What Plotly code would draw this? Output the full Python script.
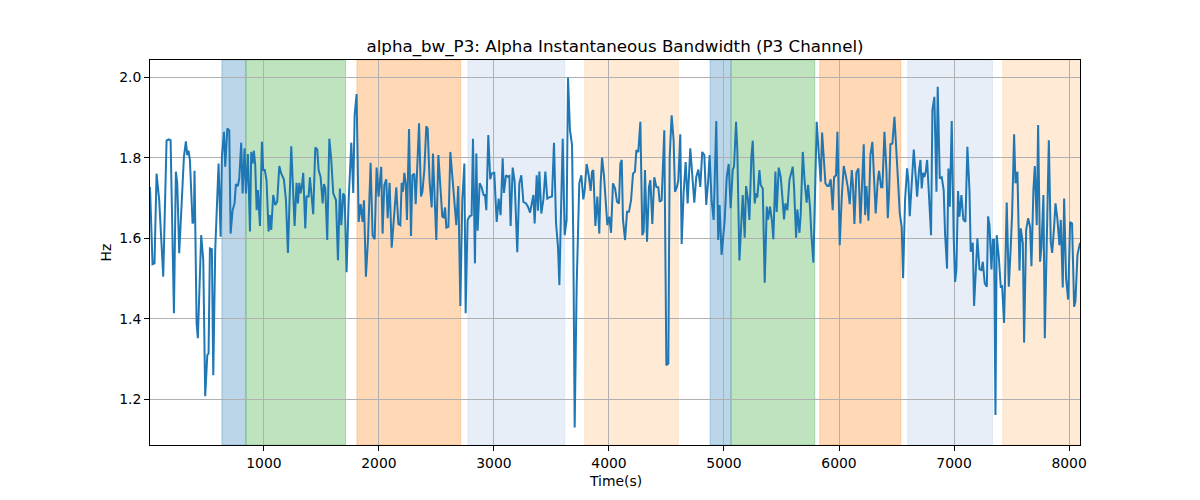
import plotly.graph_objects as go

time_s = [
    10, 32, 49, 67, 90, 108, 125, 154, 171, 189, 218, 235, 247, 264, 282, 305, 322, 334, 345, 357,
    380, 392, 397, 415, 426, 455, 473, 490, 508, 519, 531, 548, 560, 577, 606, 624, 635, 653, 664, 682,
    699, 711, 728, 745, 757, 774, 786, 803, 815, 832, 844, 861, 879, 890, 902, 913, 925, 937, 948, 966,
    983, 994, 1008, 1023, 1041, 1052, 1064, 1081, 1099, 1116, 1134, 1151, 1174, 1192, 1209, 1238, 1267, 1284, 1296, 1308,
    1319, 1331, 1342, 1360, 1371, 1389, 1400, 1412, 1429, 1447, 1464, 1476, 1493, 1511, 1522, 1534, 1551, 1569, 1586, 1603,
    1627, 1644, 1661, 1673, 1690, 1702, 1719, 1737, 1760, 1777, 1789, 1806, 1824, 1841, 1858, 1870, 1887, 1905, 1928, 1945,
    1963, 1980, 1997, 2020, 2032, 2047, 2064, 2076, 2093, 2111, 2134, 2151, 2169, 2186, 2198, 2209, 2221, 2233, 2244, 2262,
    2279, 2291, 2308, 2320, 2331, 2349, 2366, 2378, 2395, 2412, 2424, 2441, 2459, 2470, 2488, 2499, 2517, 2534, 2551, 2563,
    2575, 2586, 2604, 2621, 2638, 2656, 2673, 2690, 2708, 2725, 2743, 2754, 2771, 2789, 2806, 2818, 2835, 2847, 2858, 2876,
    2893, 2910, 2922, 2934, 2951, 2968, 2980, 3003, 3024, 3041, 3058, 3076, 3087, 3105, 3122, 3134, 3145, 3163, 3180, 3203,
    3221, 3238, 3256, 3279, 3296, 3314, 3331, 3343, 3354, 3372, 3383, 3395, 3412, 3430, 3447, 3464, 3482, 3505, 3522, 3540,
    3557, 3569, 3580, 3598, 3615, 3632, 3644, 3661, 3679, 3690, 3702, 3719, 3742, 3760, 3777, 3789, 3806, 3824, 3841, 3853,
    3864, 3882, 3899, 3916, 3928, 3940, 3957, 3974, 3986, 4003, 4018, 4035, 4053, 4070, 4087, 4099, 4111, 4122, 4140, 4157,
    4174, 4192, 4209, 4226, 4238, 4255, 4273, 4290, 4302, 4313, 4331, 4348, 4360, 4377, 4394, 4412, 4429, 4441, 4458, 4481,
    4499, 4516, 4528, 4545, 4562, 4574, 4591, 4603, 4620, 4632, 4649, 4667, 4684, 4707, 4724, 4742, 4759, 4777, 4794, 4811,
    4829, 4846, 4863, 4875, 4892, 4910, 4933, 4950, 4962, 4979, 5006, 5024, 5041, 5058, 5076, 5087, 5105, 5116, 5134, 5151,
    5163, 5180, 5192, 5209, 5221, 5238, 5250, 5267, 5279, 5290, 5308, 5319, 5337, 5354, 5372, 5383, 5400, 5418, 5429, 5447,
    5458, 5476, 5493, 5505, 5522, 5534, 5551, 5569, 5586, 5598, 5609, 5627, 5638, 5656, 5667, 5685, 5702, 5719, 5731, 5748,
    5760, 5777, 5789, 5806, 5824, 5841, 5853, 5870, 5882, 5899, 5911, 5928, 5945, 5957, 5974, 5986, 6006, 6024, 6041, 6058,
    6076, 6093, 6111, 6122, 6134, 6151, 6169, 6186, 6198, 6215, 6227, 6238, 6256, 6273, 6290, 6302, 6319, 6337, 6348, 6366,
    6377, 6395, 6412, 6424, 6435, 6447, 6464, 6482, 6499, 6516, 6528, 6545, 6557, 6574, 6592, 6603, 6615, 6632, 6650, 6667,
    6679, 6696, 6708, 6719, 6731, 6742, 6754, 6766, 6783, 6800, 6812, 6829, 6847, 6858, 6876, 6893, 6910, 6922, 6939, 6951,
    6963, 6980, 6997, 7009, 7020, 7035, 7047, 7064, 7081, 7099, 7116, 7134, 7145, 7163, 7174, 7192, 7203, 7221, 7238, 7250,
    7267, 7285, 7296, 7308, 7325, 7337, 7348, 7360, 7371, 7389, 7406, 7418, 7435, 7458, 7476, 7493, 7505, 7522, 7534, 7551,
    7569, 7580, 7598, 7609, 7627, 7644, 7661, 7673, 7690, 7702, 7719, 7731, 7748, 7760, 7777, 7789, 7806, 7824, 7841, 7853,
    7870, 7882, 7899, 7916, 7928, 7945, 7957, 7974, 7992, 8009, 8026, 8044, 8055, 8073, 8095,
]

alpha_bw = [
    1.728, 1.536, 1.538, 1.761, 1.695, 1.596, 1.505, 1.843, 1.846, 1.844, 1.414, 1.766, 1.737, 1.563, 1.670, 1.803, 1.841, 1.807, 1.818, 1.795,
    1.637, 1.646, 1.768, 1.389, 1.352, 1.608, 1.546, 1.208, 1.310, 1.314, 1.575, 1.573, 1.260, 1.571, 1.786, 1.604, 1.803, 1.865, 1.778, 1.873,
    1.869, 1.612, 1.670, 1.687, 1.735, 1.730, 1.749, 1.838, 1.712, 1.824, 1.712, 1.810, 1.617, 1.815, 1.786, 1.818, 1.782, 1.670, 1.720, 1.631,
    1.840, 1.770, 1.770, 1.745, 1.617, 1.658, 1.621, 1.708, 1.683, 1.691, 1.780, 1.761, 1.747, 1.695, 1.564, 1.829, 1.631, 1.738, 1.687, 1.738,
    1.712, 1.730, 1.763, 1.625, 1.704, 1.704, 1.752, 1.716, 1.660, 1.826, 1.821, 1.770, 1.753, 1.687, 1.735, 1.724, 1.596, 1.848, 1.795, 1.712,
    1.695, 1.546, 1.724, 1.633, 1.712, 1.704, 1.516, 1.695, 1.838, 1.713, 1.906, 1.959, 1.641, 1.685, 1.641, 1.695, 1.505, 1.596, 1.788, 1.608,
    1.598, 1.776, 1.704, 1.778, 1.612, 1.733, 1.747, 1.650, 1.738, 1.577, 1.654, 1.727, 1.636, 1.633, 1.738, 1.716, 1.763, 1.737, 1.646, 1.872,
    1.606, 1.757, 1.761, 1.685, 1.761, 1.886, 1.704, 1.716, 1.770, 1.879, 1.873, 1.741, 1.677, 1.811, 1.675, 1.596, 1.807, 1.720, 1.654, 1.652,
    1.677, 1.627, 1.629, 1.815, 1.749, 1.679, 1.633, 1.730, 1.432, 1.695, 1.786, 1.414, 1.646, 1.655, 1.658, 1.848, 1.538, 1.811, 1.619, 1.737,
    1.727, 1.708, 1.708, 1.670, 1.857, 1.747, 1.761, 1.763, 1.641, 1.699, 1.658, 1.799, 1.713, 1.757, 1.753, 1.755, 1.631, 1.776, 1.741, 1.566,
    1.737, 1.757, 1.691, 1.687, 1.679, 1.664, 1.687, 1.708, 1.637, 1.757, 1.669, 1.766, 1.662, 1.697, 1.766, 1.699, 1.702, 1.704, 1.838, 1.637,
    1.579, 1.484, 1.629, 1.848, 1.608, 1.646, 2.000, 1.869, 1.832, 1.596, 1.130, 1.480, 1.737, 1.757, 1.697, 1.720, 1.785, 1.757, 1.718, 1.766,
    1.770, 1.631, 1.704, 1.612, 1.737, 1.801, 1.755, 1.687, 1.633, 1.654, 1.614, 1.737, 1.724, 1.691, 1.687, 1.786, 1.795, 1.646, 1.596, 1.666,
    1.666, 1.695, 1.761, 1.766, 1.819, 1.815, 1.890, 1.608, 1.617, 1.770, 1.592, 1.728, 1.745, 1.636, 1.752, 1.728, 1.727, 1.691, 1.695, 1.869,
    1.285, 1.289, 1.803, 1.906, 1.844, 1.716, 1.728, 1.745, 1.859, 1.586, 1.712, 1.790, 1.687, 1.824, 1.761, 1.689, 1.753, 1.771, 1.728, 1.815,
    1.807, 1.683, 1.745, 1.807, 1.695, 1.646, 1.892, 1.596, 1.683, 1.559, 1.645, 1.753, 1.785, 1.675, 1.770, 1.778, 1.890, 1.819, 1.545, 1.666,
    1.708, 1.602, 1.730, 1.695, 1.646, 1.803, 1.843, 1.687, 1.712, 1.702, 1.770, 1.733, 1.724, 1.490, 1.679, 1.647, 1.679, 1.641, 1.598, 1.766,
    1.666, 1.776, 1.753, 1.712, 1.647, 1.687, 1.670, 1.745, 1.770, 1.778, 1.728, 1.602, 1.672, 1.614, 1.660, 1.815, 1.738, 1.689, 1.733, 1.677,
    1.608, 1.540, 1.679, 1.890, 1.811, 1.741, 1.863, 1.780, 1.737, 1.730, 1.730, 1.747, 1.670, 1.752, 1.757, 1.865, 1.583, 1.704, 1.780, 1.757,
    1.728, 1.685, 1.770, 1.728, 1.636, 1.763, 1.774, 1.637, 1.720, 1.834, 1.658, 1.730, 1.644, 1.807, 1.840, 1.745, 1.662, 1.745, 1.768, 1.727,
    1.727, 1.865, 1.770, 1.650, 1.712, 1.834, 1.836, 1.902, 1.795, 1.728, 1.662, 1.629, 1.501, 1.695, 1.774, 1.743, 1.655, 1.753, 1.821, 1.753,
    1.704, 1.770, 1.795, 1.724, 1.763, 1.753, 1.766, 1.795, 1.704, 1.608, 1.919, 1.952, 1.716, 1.977, 1.749, 1.752, 1.720, 1.612, 1.525, 1.774,
    1.679, 1.892, 1.604, 1.492, 1.521, 1.718, 1.654, 1.708, 1.647, 1.641, 1.828, 1.720, 1.567, 1.589, 1.432, 1.530, 1.600, 1.523, 1.521, 1.542,
    1.488, 1.480, 1.655, 1.633, 1.523, 1.596, 1.596, 1.161, 1.608, 1.554, 1.480, 1.481, 1.390, 1.689, 1.480, 1.579, 1.662, 1.859, 1.737, 1.766,
    1.520, 1.625, 1.588, 1.341, 1.621, 1.650, 1.629, 1.531, 1.720, 1.780, 1.633, 1.882, 1.542, 1.579, 1.708, 1.352, 1.629, 1.844, 1.592, 1.564,
    1.629, 1.687, 1.647, 1.583, 1.646, 1.478, 1.699, 1.501, 1.448, 1.641, 1.637, 1.430, 1.443, 1.559, 1.589,
]

# Shaded segments (start, end, colour)
seg_start = [635, 844, 1809, 2774, 3789, 4879, 5061, 5832, 6598, 7424]
seg_end = [844, 1710, 2711, 3615, 4603, 5061, 5789, 6537, 7334, 8200]
seg_color = [
    "rgba(31,119,180,0.3)", "rgba(44,160,44,0.3)", "rgba(255,127,14,0.3)",
    "rgba(174,199,232,0.3)", "rgba(255,187,120,0.3)",
    "rgba(31,119,180,0.3)", "rgba(44,160,44,0.3)", "rgba(255,127,14,0.3)",
    "rgba(174,199,232,0.3)", "rgba(255,187,120,0.3)",
]

x_ticks = [1000, 2000, 3000, 4000, 5000, 6000, 7000, 8000]
y_ticks = [1.2, 1.4, 1.6, 1.8, 2.0]

fig = go.Figure()
fig.add_trace(go.Scatter(x=time_s, y=alpha_bw, mode="lines",
                         line=dict(color="#1f77b4", width=2), showlegend=False))

for s, e, c in zip(seg_start, seg_end, seg_color):
    fig.add_vrect(x0=s, x1=e, fillcolor=c, line=dict(color=c, width=1), layer="below")

ymin, ymax = min(alpha_bw), max(alpha_bw)
pad = (ymax - ymin) * 0.05

font = "DejaVu Sans, sans-serif"
fig.update_layout(
    width=1200, height=500,
    margin=dict(l=150, r=120, t=60, b=55),
    paper_bgcolor="white", plot_bgcolor="rgba(0,0,0,0)",
    font=dict(family=font, size=13.9, color="black"),
    title=dict(text="alpha_bw_P3: Alpha Instantaneous Bandwidth (P3 Channel)",
               x=0.5, xref="paper", xanchor="center",
               y=1 - 46 / 500, yref="container", yanchor="middle",
               font=dict(family=font, size=16.7, color="black")),
    xaxis=dict(range=[time_s[0], time_s[-1]], tickvals=x_ticks,
               ticktext=[str(v) for v in x_ticks],
               showgrid=True, gridcolor="#b0b0b0", gridwidth=1,
               showline=True, linecolor="black", linewidth=1, mirror=True,
               ticks="outside", ticklen=5, tickcolor="black", zeroline=False,
               layer="above traces"),
    yaxis=dict(range=[ymin - pad, ymax + pad], tickvals=y_ticks,
               ticktext=[f"{v:.1f}" for v in y_ticks],
               showgrid=True, gridcolor="#b0b0b0", gridwidth=1,
               showline=True, linecolor="black", linewidth=1, mirror=True,
               ticks="outside", ticklen=5, tickcolor="black", zeroline=False),
    annotations=[
        dict(text="Time(s)", xref="paper", yref="paper", x=0.5, y=(445 - 481) / 385,
             xanchor="center", yanchor="middle", showarrow=False,
             font=dict(family=font, size=13.9)),
        dict(text="Hz", xref="paper", yref="paper", x=(105 - 150) / 930, y=0.5,
             xanchor="center", yanchor="middle", showarrow=False, textangle=-90,
             font=dict(family=font, size=13.9)),
    ],
)

fig.write_html("out.html")
